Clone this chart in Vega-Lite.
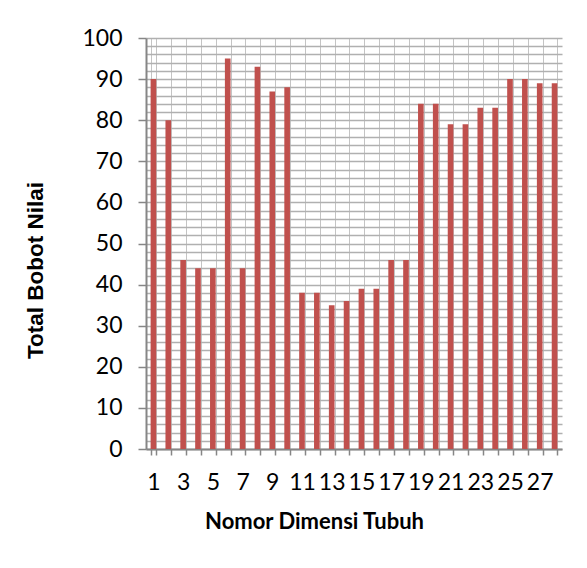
{
  "$schema": "https://vega.github.io/schema/vega-lite/v6.json",
  "autosize": {"type": "none"},
  "padding": {"left": 146, "top": 38, "right": 25, "bottom": 119},
  "width": 416,
  "height": 411,
  "background": "white",
  "config": {"view": {"stroke": null}},
  "data": {
    "values": [
      {"nomor": 1, "nilai": 90}, {"nomor": 2, "nilai": 80}, {"nomor": 3, "nilai": 46},
      {"nomor": 4, "nilai": 44}, {"nomor": 5, "nilai": 44}, {"nomor": 6, "nilai": 95},
      {"nomor": 7, "nilai": 44}, {"nomor": 8, "nilai": 93}, {"nomor": 9, "nilai": 87},
      {"nomor": 10, "nilai": 88}, {"nomor": 11, "nilai": 38}, {"nomor": 12, "nilai": 38},
      {"nomor": 13, "nilai": 35}, {"nomor": 14, "nilai": 36}, {"nomor": 15, "nilai": 39},
      {"nomor": 16, "nilai": 39}, {"nomor": 17, "nilai": 46}, {"nomor": 18, "nilai": 46},
      {"nomor": 19, "nilai": 84}, {"nomor": 20, "nilai": 84}, {"nomor": 21, "nilai": 79},
      {"nomor": 22, "nilai": 79}, {"nomor": 23, "nilai": 83}, {"nomor": 24, "nilai": 83},
      {"nomor": 25, "nilai": 90}, {"nomor": 26, "nilai": 90}, {"nomor": 27, "nilai": 89},
      {"nomor": 28, "nilai": 89}
    ]
  },
  "mark": {"type": "bar", "color": "#C0504D"},
  "encoding": {
    "x": {
      "field": "nomor",
      "type": "ordinal",
      "scale": {"paddingInner": 0.62, "paddingOuter": 0.31},
      "axis": {
        "title": "Nomor Dimensi Tubuh",
        "titleFont": "Lato",
        "titleFontWeight": "bold",
        "titleFontSize": 22,
        "titleColor": "#000000",
        "titleX": 168,
        "titleY": 72,
        "titleAlign": "center",
        "titleBaseline": "middle",
        "labelAngle": 0,
        "labelFont": "Lato",
        "labelFontSize": 23,
        "labelColor": "#000000",
        "labelPadding": 16,
        "labelOverlap": false,
        "labelExpr": "datum.value % 2 == 1 ? datum.label : ''",
        "tickBand": "extent",
        "tickSize": 6,
        "tickColor": "#868686",
        "tickWidth": 1.5,
        "domainColor": "#868686",
        "domainWidth": 2,
        "grid": true,
        "gridColor": "#c4c4c4",
        "gridWidth": 1
      }
    },
    "y": {
      "field": "nilai",
      "type": "quantitative",
      "scale": {"domain": [0, 100], "nice": false},
      "axis": {
        "title": "Total Bobot Nilai",
        "titleFont": "Liberation Sans",
        "titleFontWeight": "bold",
        "titleFontSize": 22.5,
        "titleColor": "#000000",
        "titleX": -111,
        "titleY": 232,
        "titleAngle": -90,
        "titleAlign": "center",
        "titleBaseline": "middle",
        "values": [0,2,4,6,8,10,12,14,16,18,20,22,24,26,28,30,32,34,36,38,40,42,44,46,48,50,52,54,56,58,60,62,64,66,68,70,72,74,76,78,80,82,84,86,88,90,92,94,96,98,100],
        "labelExpr": "datum.value % 10 == 0 ? datum.label : ''",
        "labelFont": "Lato",
        "labelFontSize": 23,
        "labelColor": "#000000",
        "labelPadding": 16,
        "labelOverlap": false,
        "tickSize": 8,
        "tickWidth": 1.5,
        "tickColor": {"condition": {"test": "datum.value % 10 == 0", "value": "#868686"}, "value": "transparent"},
        "domainColor": "#868686",
        "domainWidth": 2,
        "grid": true,
        "gridColor": "#b0b0b0",
        "gridWidth": 1.5
      }
    }
  }
}
